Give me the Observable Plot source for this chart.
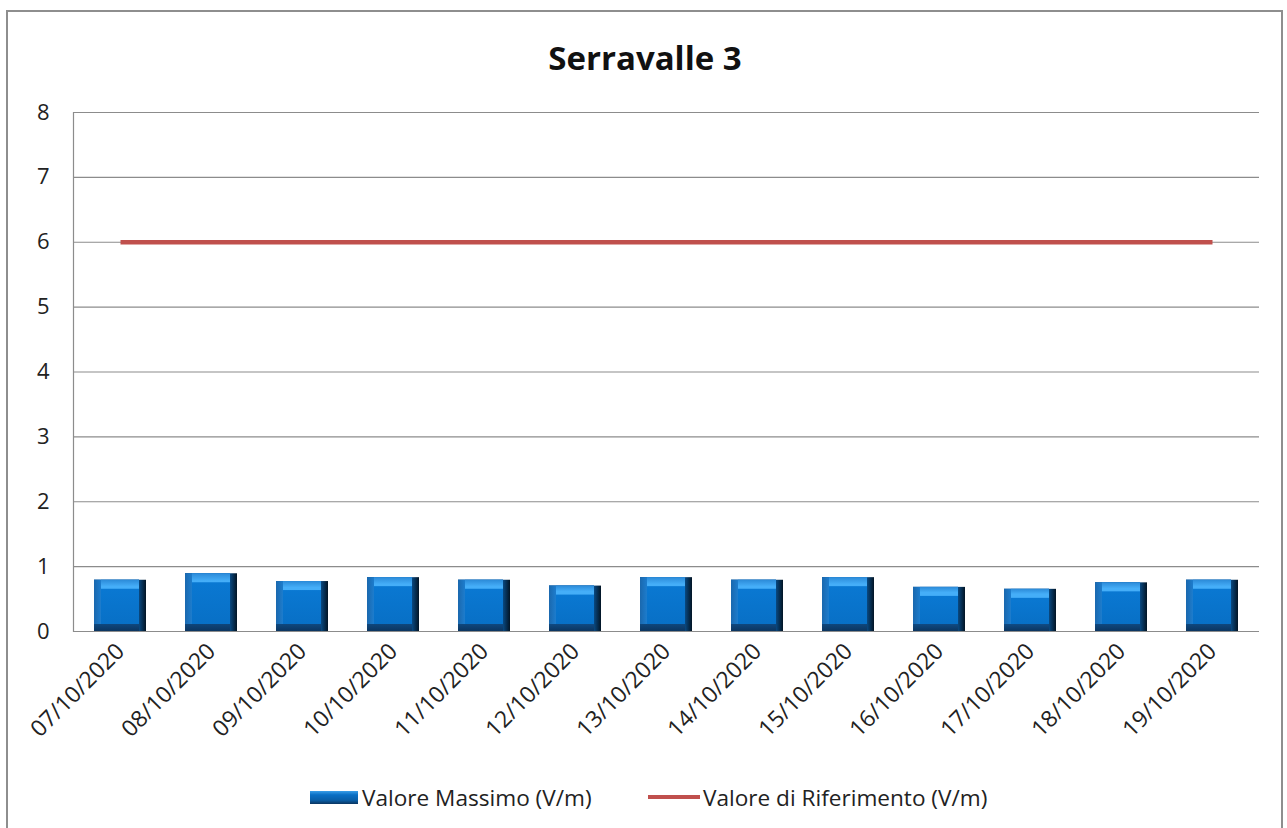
<!DOCTYPE html>
<html>
<head>
<meta charset="utf-8">
<script src="https://cdn.jsdelivr.net/npm/d3@7"></script>
<script src="https://cdn.jsdelivr.net/npm/@observablehq/plot@0.6"></script>
<style>
  html, body { margin: 0; padding: 0; background: #fff; overflow: hidden; }
  body { width: 1287px; height: 828px; position: relative; font-family: "Open Sans", Lato, sans-serif; }
  #frame { position: absolute; left: 6px; top: 10px; width: 1277px; height: 830px; border: 2px solid #8e8e8e; box-sizing: border-box; }
  #title { position: absolute; top: 34px; left: 0; width: 1290px; text-align: center; font-size: 33px; font-weight: bold; color: #111; line-height: 48px; }
  #chart { position: absolute; left: 0; top: 90px; }
  #legend { position: absolute; top: 782px; left: 0; width: 1287px; height: 30px; font-size: 22.6px; color: #222; }
  .item { position: absolute; top: 0; display: flex; align-items: center; height: 30px; white-space: nowrap; }
  .sw-bar { width: 48px; height: 13px; margin-right: 4px; background: linear-gradient(to bottom, #3a9ee8 0%, #0a6fc4 30%, #0a5fa8 70%, #0a3560 100%); }
  .sw-line { width: 52px; height: 4px; margin-right: 3px; background: #c0504d; }
</style>
</head>
<body>
<div id="frame"></div>
<div id="title">Serravalle 3</div>
<div id="chart"></div>
<div id="legend">
  <div class="item" style="left:310px"><span class="sw-bar"></span>Valore Massimo (V/m)</div>
  <div class="item" style="left:648px"><span class="sw-line"></span>Valore di Riferimento (V/m)</div>
</div>
<script>
const dates = ["07/10/2020","08/10/2020","09/10/2020","10/10/2020","11/10/2020","12/10/2020","13/10/2020","14/10/2020","15/10/2020","16/10/2020","17/10/2020","18/10/2020","19/10/2020"];
const valoreMassimo = [0.79, 0.89, 0.77, 0.83, 0.79, 0.70, 0.83, 0.79, 0.83, 0.68, 0.65, 0.75, 0.79];
const valoreRiferimento = [6, 6, 6, 6, 6, 6, 6, 6, 6, 6, 6, 6, 6];
const yTicks = [0, 1, 2, 3, 4, 5, 6, 7, 8];

const massimo = dates.map((d, i) => ({date: d, value: valoreMassimo[i]}));
const riferimento = dates.map((d, i) => ({date: d, value: valoreRiferimento[i]}));

const bar = (fill, insets) => Plot.barY(massimo, {x: "date", y: "value", fill, ...insets});

const chart = Plot.plot({
  width: 1287,
  height: 680,
  marginLeft: 73,
  marginRight: 28,
  marginTop: 22,
  marginBottom: 139,
  style: {fontFamily: "'Open Sans', Lato, sans-serif", fontSize: "22.5px", color: "#222", background: "transparent"},
  x: {domain: dates, paddingInner: 0.43, paddingOuter: 0.215, label: null},
  y: {domain: [0, 8], ticks: yTicks, label: null},
  marks: [
    Plot.ruleY(yTicks, {stroke: "#8c8c8c", strokeWidth: 1.2, strokeOpacity: 1}),
    Plot.frame({anchor: "left", stroke: "#8c8c8c", strokeWidth: 1.2, strokeOpacity: 1}),
    bar("url(#gRight)", {}),
    bar("url(#gBottom)", {insetRight: 7}),
    bar("url(#gLeft)", {insetRight: 7, insetBottom: 7}),
    bar("url(#gTop)", {insetLeft: 7, insetRight: 7, insetBottom: 7}),
    bar("url(#gFace)", {insetLeft: 7, insetRight: 7, insetTop: 9, insetBottom: 7}),
    Plot.lineY(riferimento, {x: "date", y: "value", stroke: "#c0504d", strokeWidth: 4.5, strokeLinecap: "butt"}),
    Plot.axisY({ticks: yTicks, tickSize: 0, tickPadding: 24, fontSize: 22, label: null}),
    Plot.axisX({tickSize: 0, tickPadding: 16, tickRotate: -45, fontSize: 22.8, label: null})
  ]
});

const ns = "http://www.w3.org/2000/svg";
const defs = document.createElementNS(ns, "defs");
defs.innerHTML = `
  <linearGradient id="gRight" x1="0" y1="0" x2="1" y2="0">
    <stop offset="0" stop-color="#0b5ea5"/>
    <stop offset="0.85" stop-color="#0a4f8c"/>
    <stop offset="1" stop-color="#021424"/>
  </linearGradient>
  <linearGradient id="gBottom" x1="0" y1="0" x2="0" y2="1">
    <stop offset="0" stop-color="#12589a"/>
    <stop offset="0.8" stop-color="#11508c"/>
    <stop offset="1" stop-color="#0b3560"/>
  </linearGradient>
  <linearGradient id="gLeft" x1="0" y1="0" x2="1" y2="0">
    <stop offset="0" stop-color="#1a68ae"/>
    <stop offset="0.15" stop-color="#1d7ccc"/>
    <stop offset="1" stop-color="#1d7ccc"/>
  </linearGradient>
  <linearGradient id="gTop" x1="0" y1="0" x2="0" y2="1">
    <stop offset="0" stop-color="#2b8ad8"/>
    <stop offset="0.15" stop-color="#45aef8"/>
    <stop offset="1" stop-color="#45aef8"/>
  </linearGradient>
  <linearGradient id="gFace" x1="0" y1="0" x2="0" y2="1">
    <stop offset="0" stop-color="#0a78d2"/>
    <stop offset="1" stop-color="#0870c6"/>
  </linearGradient>`;
chart.insertBefore(defs, chart.firstChild);
document.getElementById("chart").appendChild(chart);
</script>
</body>
</html>
